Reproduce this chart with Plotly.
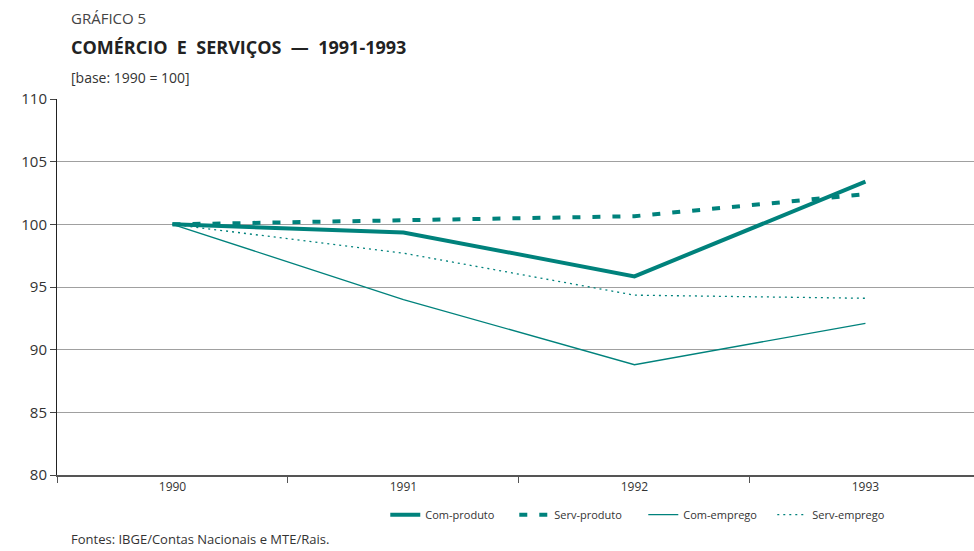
import plotly.graph_objects as go

years = ["1990", "1991", "1992", "1993"]
com_produto = [100, 99.35, 95.85, 103.4]
serv_produto = [100, 100.3, 100.65, 102.4]
com_emprego = [100, 94.0, 88.8, 92.1]
serv_emprego = [100, 97.7, 94.35, 94.1]

teal = "#00827c"

fig = go.Figure()
fig.add_trace(go.Scatter(x=years, y=com_produto, name="Com-produto", mode="lines",
                         line=dict(color=teal, width=4)))
fig.add_trace(go.Scatter(x=years, y=serv_produto, name="Serv-produto", mode="lines",
                         line=dict(color=teal, width=4, dash="8px,12px")))
fig.add_trace(go.Scatter(x=years, y=com_emprego, name="Com-emprego", mode="lines",
                         line=dict(color=teal, width=1.3)))
fig.add_trace(go.Scatter(x=years, y=serv_emprego, name="Serv-emprego", mode="lines",
                         line=dict(color=teal, width=1.3, dash="2px,4px")))

font = "Open Sans, Liberation Sans, sans-serif"

fig.update_layout(
    width=974, height=551,
    margin=dict(l=57, r=0, t=99, b=76),
    plot_bgcolor="white", paper_bgcolor="white",
    font=dict(family=font, color="#333333"),
    showlegend=True,
    legend=dict(orientation="h", x=0.358, y=-0.067, xanchor="left", yanchor="top",
                font=dict(size=11, color="#333333"), itemwidth=30,
                entrywidth=84, entrywidthmode="pixels",
                tracegroupgap=0, bgcolor="rgba(0,0,0,0)"),
    annotations=[
        dict(text="GRÁFICO 5", x=69, y=551 - 18,
             showarrow=False, font=dict(size=15, color="#444444")),
        dict(text="<b>COMÉRCIO  E  SERVIÇOS  —  1991-1993</b>", x=69, y=551 - 47,
             showarrow=False, font=dict(size=18, color="#222222")),
        dict(text="[base: 1990 = 100]", x=69, y=551 - 78,
             showarrow=False, font=dict(size=14, color="#333333")),
        dict(text="Fontes: IBGE/Contas Nacionais e MTE/Rais.", x=69, y=551 - 539,
             showarrow=False, font=dict(size=13, color="#333333")),
    ],
)

# convert the pixel positions above into paper coordinates
for a in fig.layout.annotations:
    a.xref = "paper"
    a.yref = "paper"
    a.xanchor = "left"
    a.yanchor = "middle"
    a.x = (a.x - 57) / (974 - 57)
    a.y = (a.y - 76) / (551 - 99 - 76)

fig.update_xaxes(
    type="category", range=[-0.5, 3.47],
    showgrid=False, showline=True, linecolor="#555555", linewidth=2,
    ticks="outside", tickson="boundaries", ticklen=6, tickcolor="#555555",
    tickfont=dict(size=12, color="#333333"), zeroline=False,
)
fig.update_yaxes(
    range=[80, 110], dtick=5,
    showgrid=True, gridcolor="#a0a0a0", gridwidth=1,
    showline=True, linecolor="#222222", linewidth=1,
    ticks="outside", ticklen=6, tickcolor="#444444",
    tickfont=dict(size=15, color="#333333"), zeroline=False,
)

fig.write_html("out.html", config={"displayModeBar": False},
               post_script="document.body.style.margin='0';")
